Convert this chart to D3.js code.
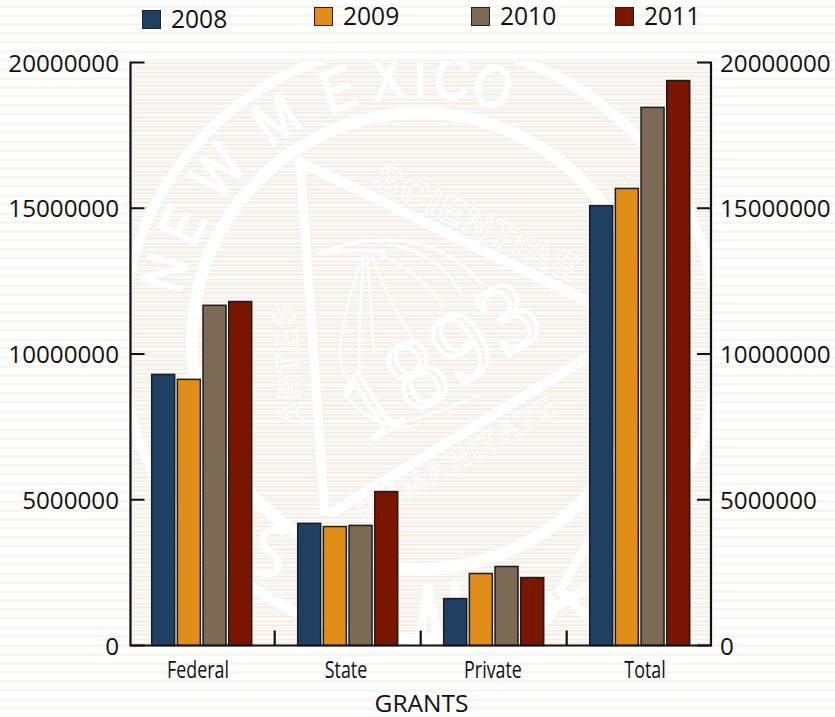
<!DOCTYPE html>
<html><head><meta charset="utf-8">
<script src="https://d3js.org/d3.v7.min.js"></script>
<style>html,body{margin:0;padding:0;background:#fff}svg{display:block}text{font-family:"Open Sans",sans-serif;fill:#111}</style>
</head><body><div id="c"></div>
<script>
const categories=["Federal","State","Private","Total"];
const years=["2008","2009","2010","2011"];
const v2008=[9300000,4190000,1610000,15090000];
const v2009=[9130000,4080000,2470000,15680000];
const v2010=[11670000,4120000,2710000,18460000];
const v2011=[11800000,5280000,2330000,19380000];
const colors=["#1f3f63","#e08e19","#7c6a55","#7a1500"];
const yTicks=[0,5000000,10000000,15000000,20000000];
const catLabelShift=[-3,-1,0,6];
const series=[v2008,v2009,v2010,v2011];
const W=835,H=717,L=130.5,R=711,T=62.5,B=645.5;
const svg=d3.select("#c").append("svg").attr("width",W).attr("height",H);
const defs=svg.append("defs");
const pOut=defs.append("pattern").attr("id","po").attr("patternUnits","userSpaceOnUse").attr("width",9).attr("height",9);
pOut.append("rect").attr("width",9).attr("height",9).attr("fill","#fff");
pOut.append("rect").attr("y",5).attr("width",9).attr("height",3).attr("fill","#f8f6f1");
const pIn=defs.append("pattern").attr("id","pi").attr("patternUnits","userSpaceOnUse").attr("width",9).attr("height",9);
pIn.append("rect").attr("width",9).attr("height",9).attr("fill","#fcfaf8");
[[0,1,"#f3ebe3"],[1,1,"#f8f5f0"],[3,1,"#f7f3ee"],[4,1,"#f3ece5"],[5,1,"#f8f5f0"],[7,1,"#f8f6f2"]].forEach(d=>pIn.append("rect").attr("y",d[0]).attr("width",9).attr("height",d[1]).attr("fill",d[2]));
svg.append("rect").attr("width",W).attr("height",H).attr("fill","url(#po)");
svg.append("rect").attr("x",L).attr("y",T).attr("width",R-L).attr("height",B-T).attr("fill","url(#pi)");
const x0=d3.scaleBand().domain(categories).range([128.7,712.7]);
const x1=d3.scaleBand().domain(years).range([23,123]).paddingInner(0.105).paddingOuter(0);
const y=d3.scaleLinear().domain([0,20000000]).range([B,T]);
// seal watermark
defs.append("clipPath").attr("id","pc").append("rect").attr("x",L).attr("y",T).attr("width",R-L).attr("height",B-T);
const seal=svg.append("g").attr("clip-path","url(#pc)");
const cx=420,cy=341;
const ring=(r,w)=>seal.append("circle").attr("cx",cx).attr("cy",cy).attr("r",r).attr("fill","none").attr("stroke","#fff").attr("stroke-width",w);
ring(298,10);ring(228,12);
const pl=(pts,w)=>seal.append("path").attr("d",d3.line()(pts)).attr("fill","none").attr("stroke","#fff").attr("stroke-width",w).attr("stroke-linejoin","miter");
const cv=(d,w)=>seal.append("path").attr("d",d).attr("fill","none").attr("stroke","#fff").attr("stroke-width",w).attr("stroke-linecap","round");
pl([[300,160],[325,516]],9);
pl([[296,160],[600,307]],10);
pl([[600,350],[330,514]],10);
// feather lines
[["M363,257C350,290 340,330 340,358C342,375 350,385 360,385",2.5],
 ["M364,257C360,300 358,340 360,380",2.5],
 ["M367,257C370,290 372,320 374,352",2.5],
 ["M372,257C385,290 400,320 417,345",2.5],
 ["M380,255C405,265 430,285 443,307",2.5],
 ["M390,245C425,250 450,270 463,297",2.5],
 ["M317,254C370,232 440,232 480,283",3],
 ["M317,254C340,250 360,250 385,252",3],
 ["M375,410C395,430 420,420 480,395",2.5],
 ["M345,395C370,425 395,430 420,425",2.5]].forEach(d=>cv(d[0],d[1]));
const sText=(txt,tr,size,sp,sw,font,weight)=>seal.append("text").attr("transform",tr).attr("font-size",size).attr("letter-spacing",sp)
 .style("fill","none").style("stroke","#fff").style("stroke-width",sw).style("font-weight",weight||"bold").style("font-family",font||"Liberation Sans").text(txt);
const ang=a=>a*Math.PI/180;
// NEW MEXICO set glyph by glyph along the ring band
const topLetters="NEWMEXICO".split("");
const topAngles=[-165,-154,-140,-123,-108,-97,-90,-83,-74];
topLetters.forEach((ch,i)=>{const a=topAngles[i],r=244;
 seal.append("text").attr("transform",`translate(${cx+r*Math.cos(ang(a))},${cy+r*Math.sin(ang(a))}) rotate(${a+90}) scale(0.82,1)`).attr("text-anchor","middle")
 .attr("font-size",60).style("fill","#fff").style("stroke","#fff").style("stroke-width",2).style("font-family","Liberation Sans").text(ch);});
sText("SCIENTIAE","translate(372,186) rotate(25.8)",37,3,1.3);
sText("ARTES","translate(303,424) rotate(-94)",32,3,1.3);
sText("HUMANITATE","translate(365,524) rotate(-30)",29,4,1.3);
sText("1893","translate(367,444) rotate(-32)",100,4,4,"Liberation Serif","normal");
// lower seal letterforms
cv("M283,532C265,522 255,545 270,552C285,560 280,580 258,572",7);
cv("M420,640L428,585L438,640M455,640V585",9);
cv("M527,640V592C560,590 565,620 530,628",8);
cv("M590,540L560,590L610,640",9);
// bars
categories.forEach((c,i)=>{const g=svg.append("g").attr("transform",`translate(${x0(c)},0)`);
 g.selectAll("rect").data(years).join("rect").attr("x",d=>x1(d)).attr("width",x1.bandwidth())
  .attr("y",(d,k)=>y(series[k][i])).attr("height",(d,k)=>B-y(series[k][i]))
  .attr("fill",(d,k)=>colors[k]).attr("stroke","#1c1c1c").attr("stroke-width",1.5);});
// axes
const axis=svg.append("g").attr("stroke","#111").attr("stroke-width",2.2).attr("fill","none");
axis.append("path").attr("d",`M${L+14},${T}H${L}V${B}H${R}V${T}H${R-14}`);
yTicks.slice(0,-1).forEach(t=>{axis.append("path").attr("d",`M${L},${y(t)}H${L+14}M${R},${y(t)}H${R-14}`);});
categories.slice(1).forEach(c=>{axis.append("path").attr("d",`M${x0(c)},${B}V${B-15}`);});
// tick labels
const fs=24.2;
yTicks.forEach(t=>{
 svg.append("text").attr("x",119).attr("y",y(t)+9).attr("text-anchor","end").attr("font-size",fs).text(t);
 svg.append("text").attr("x",720).attr("y",y(t)+9).attr("font-size",fs).text(t);
});
categories.forEach((c,i)=>{svg.append("text").attr("transform",`translate(${x0(c)+x0.bandwidth()/2+catLabelShift[i]-0.7},678) scale(0.76,1)`).attr("text-anchor","middle").attr("font-size",23.5).text(c);});
svg.append("text").attr("x",421.5).attr("y",712).attr("text-anchor","middle").attr("font-size",24.5).text("GRANTS");
// legend
const legX=[142,314,471,615],legY=[10,7,7,7];
years.forEach((yr,i)=>{svg.append("rect").attr("x",legX[i]+.5).attr("y",legY[i]+.5).attr("width",18).attr("height",18).attr("fill",colors[i]).attr("stroke","#222").attr("stroke-width",1);
 svg.append("text").attr("x",legX[i]+29).attr("y",legY[i]+18).attr("font-size",24.6).text(yr);});
</script></body></html>
